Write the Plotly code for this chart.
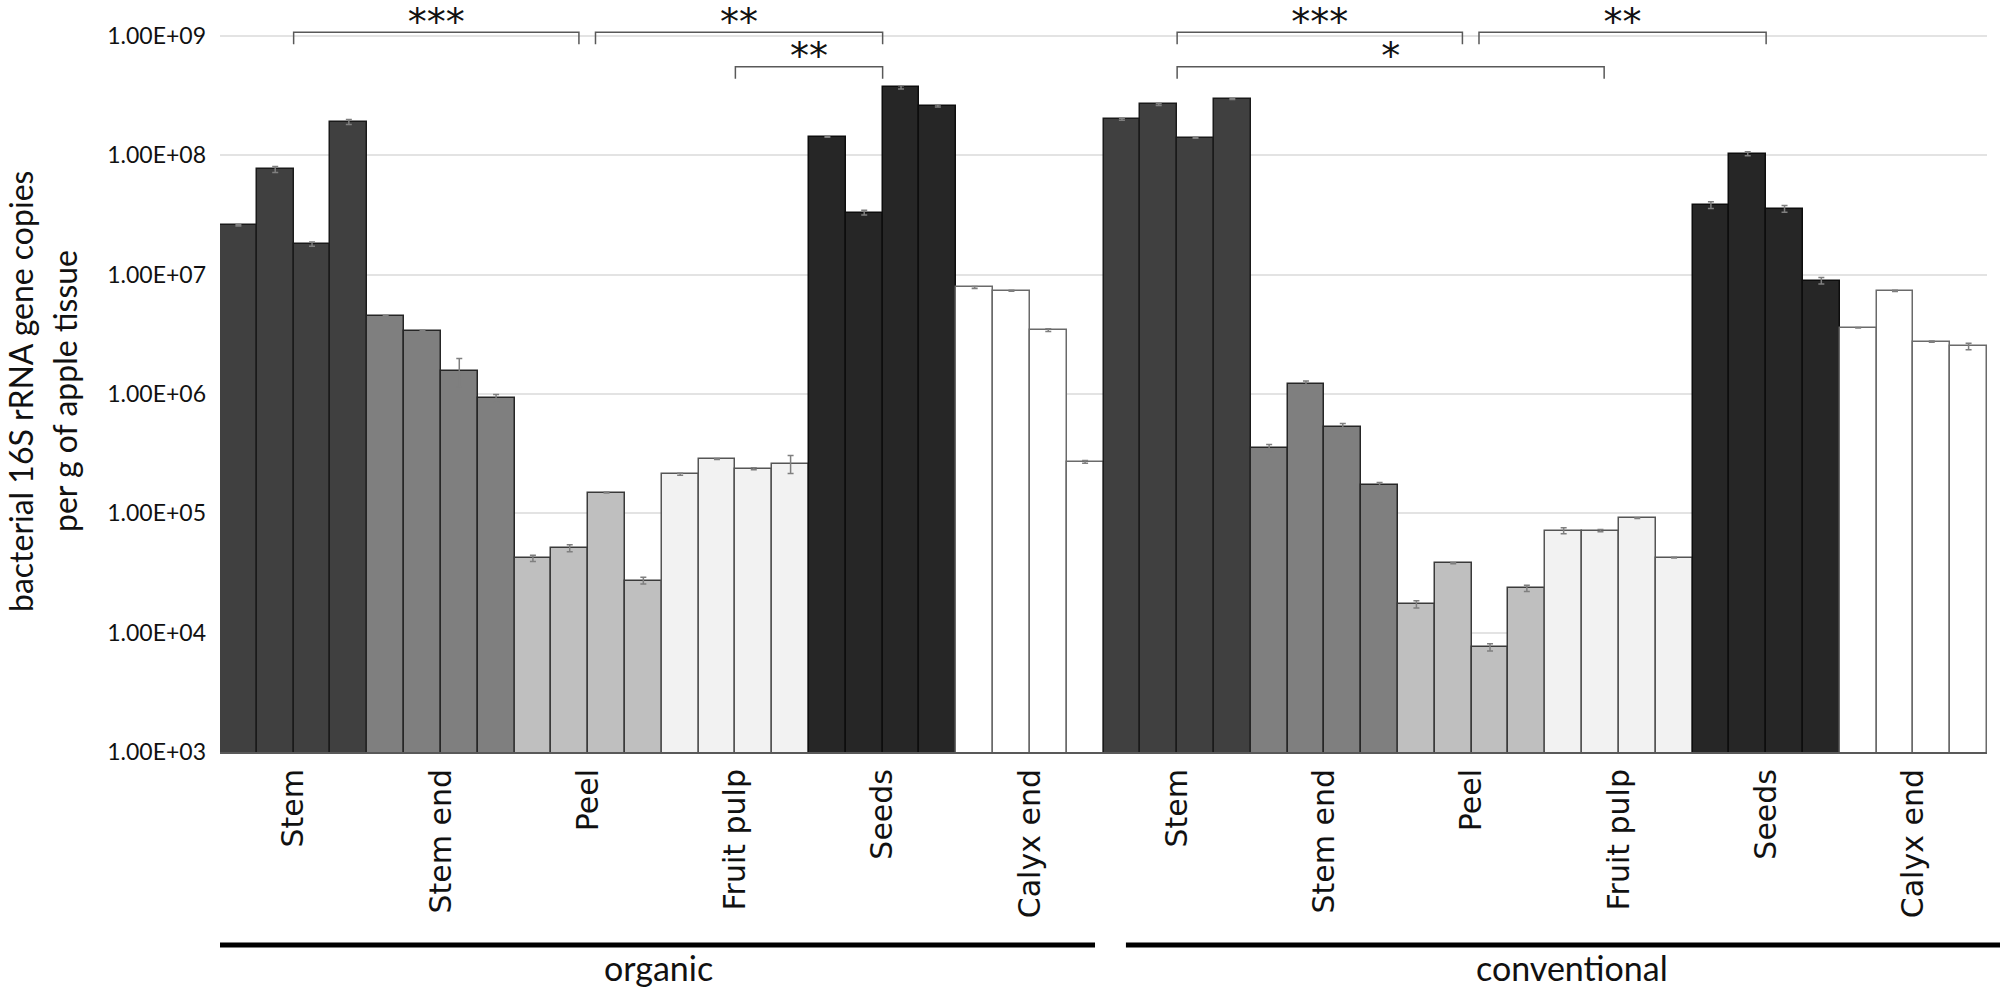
import plotly.graph_objects as go

# tissues, sample groups and measured values (4 replicate apples per tissue)
tissues = ["Stem", "Stem end", "Peel", "Fruit pulp", "Seeds", "Calyx end"]
systems = ["organic", "conventional"]

organic = [
    [2.58e7, 7.6e7, 1.8e7, 1.9e8],
    [4.5e6, 3.38e6, 1.56e6, 9.2e5],
    [4.2e4, 5.1e4, 1.49e5, 2.73e4],
    [2.12e5, 2.85e5, 2.36e5, 2.6e5],
    [1.43e8, 3.3e7, 3.7e8, 2.58e8],
    [7.8e6, 7.3e6, 3.43e6, 2.7e5],
]
organic_err = [
    [3e5, 4.5e6, 7e5, 9e6],
    [4e4, 4e4, 4.2e5, 7e4],
    [2.5e3, 3.5e3, 1.5e3, 1.8e3],
    [4e3, 3e3, 5e3, 4.5e4],
    [1.5e6, 1.5e6, 1.1e7, 5e6],
    [1.5e5, 7e4, 9e4, 7e3],
]

conventional = [
    [2.0e8, 2.66e8, 1.4e8, 2.95e8],
    [3.5e5, 1.22e6, 5.3e5, 1.74e5],
    [1.73e4, 3.81e4, 7.55e3, 2.35e4],
    [7.15e4, 7.15e4, 9.1e4, 4.25e4],
    [3.82e7, 1.03e8, 3.56e7, 8.9e6],
    [3.58e6, 7.3e6, 2.74e6, 2.5e6],
]
conventional_err = [
    [4e6, 5e6, 1.5e6, 3e6],
    [2.6e4, 6e4, 3.4e4, 7e3],
    [1.2e3, 4e2, 5.3e2, 1.4e3],
    [4e3, 1.5e3, 5e2, 4e2],
    [2.5e6, 4e6, 2.3e6, 5.5e5],
    [2e4, 1e5, 3e4, 1.6e5],
]

# significance brackets: (system, from tissue, to tissue, label, level)
brackets = [
    ("organic", "Stem", "Peel", "***", 1),
    ("organic", "Peel", "Seeds", "**", 1),
    ("organic", "Fruit pulp", "Seeds", "**", 2),
    ("conventional", "Stem", "Peel", "***", 1),
    ("conventional", "Peel", "Seeds", "**", 1),
    ("conventional", "Stem", "Fruit pulp", "*", 2),
]

tick_vals = [1e3, 1e4, 1e5, 1e6, 1e7, 1e8, 1e9]
tick_text = ["1.00E+03", "1.00E+04", "1.00E+05", "1.00E+06",
             "1.00E+07", "1.00E+08", "1.00E+09"]

fill = ["#404040", "#7f7f7f", "#bfbfbf", "#f2f2f2", "#262626", "#ffffff"]
edge = ["#1a1a1a", "#262626", "#3a3a3a", "#555555", "#0d0d0d", "#6a6a6a"]

n_rep = 4
data = {"organic": (organic, organic_err), "conventional": (conventional, conventional_err)}

fig = go.Figure()

for s, system in enumerate(systems):
    vals, errs = data[system]
    for t, tissue in enumerate(tissues):
        base = (s * len(tissues) + t) * n_rep
        fig.add_trace(go.Bar(
            x=[base + r for r in range(n_rep)],
            y=vals[t],
            width=1,
            marker=dict(color=fill[t], line=dict(color=edge[t], width=1.5)),
            error_y=dict(type="data", array=errs[t], color="#7f7f7f",
                         thickness=1.5, width=3),
            showlegend=False,
        ))


def center(system, tissue):
    return (systems.index(system) * len(tissues) + tissues.index(tissue)) * n_rep + 1.5


level_y = {1: 10 ** 9.03, 2: 10 ** 8.74}
star_y = {1: 10 ** 9.085, 2: 10 ** 8.8}
drop = 10 ** -0.1

for system, a, b, label, level in brackets:
    x0, x1 = center(system, a), center(system, b)
    # leave a small gap where two brackets meet on the same level
    for other in brackets:
        if other[0] == system and other[4] == level:
            if other[2] == a and other[1] != a:
                x0 += 0.2
            if other[1] == b and other[2] != b:
                x1 -= 0.25
    if level == 2 and system == "conventional":
        x1 -= 0.4
    y = level_y[level]
    fig.add_trace(go.Scatter(
        x=[x0, x0, x1, x1], y=[y * drop, y, y, y * drop],
        mode="lines", line=dict(color="#595959", width=1.5),
        hoverinfo="skip", showlegend=False, cliponaxis=False,
    ))
    fig.add_trace(go.Scatter(
        x=[(x0 + x1) / 2], y=[star_y[level]], mode="text", text=[label],
        textfont=dict(family="DejaVu Sans", size=38, color="#111111"),
        hoverinfo="skip", showlegend=False, cliponaxis=False,
    ))

cat_vals = [center(s, t) for s in systems for t in tissues]
cat_text = [t for s in systems for t in tissues]

fig.update_layout(
    width=2000, height=990,
    margin=dict(l=220, r=13, t=0, b=238),
    plot_bgcolor="white", paper_bgcolor="white",
    bargap=0,
    xaxis=dict(
        range=[-0.5, len(systems) * len(tissues) * n_rep - 0.5],
        tickvals=cat_vals, ticktext=cat_text, tickangle=-90,
        ticks="", ticklabelstandoff=3,
        tickfont=dict(family="DejaVu Sans", size=30, color="#111111"),
        showgrid=False, zeroline=False,
        showline=True, linecolor="#595959", linewidth=2,
    ),
    yaxis=dict(
        type="log", range=[3, 9.3],
        tickvals=tick_vals, ticktext=tick_text,
        tickfont=dict(family="Lato", size=23, color="#111111"),
        ticks="", ticklabelstandoff=13,
        showgrid=True, gridcolor="#e3e3e3", gridwidth=2,
        zeroline=False, showline=False,
    ),
)

# two-line y axis title
for xp, line in [(-0.1132, "bacterial 16S rRNA gene copies"), (-0.0883, "per g of apple tissue")]:
    fig.add_annotation(x=xp, y=0.48, xref="paper", yref="paper", text=line,
                       textangle=-90, showarrow=False, xanchor="center", yanchor="middle",
                       font=dict(family="Lato", size=32, color="#111111"))

# system group bars and labels under the x axis
group_span = {"organic": (0.0, 0.4952, 0.2479), "conventional": (0.5127, 1.0074, 0.765)}
for system in systems:
    a, b, mid = group_span[system]
    fig.add_shape(type="line", xref="paper", yref="paper", x0=a, x1=b,
                  y0=-0.2566, y1=-0.2566, line=dict(color="black", width=5))
    fig.add_annotation(x=mid, y=-0.2872, xref="paper", yref="paper", text=system,
                       showarrow=False, xanchor="center", yanchor="middle",
                       font=dict(family="Lato", size=34, color="#111111"))

# drop the default page margin so the figure fills the window from the corner
fig.write_html("out.html", config={"displayModeBar": False},
               post_script="document.body.style.margin='0';")
